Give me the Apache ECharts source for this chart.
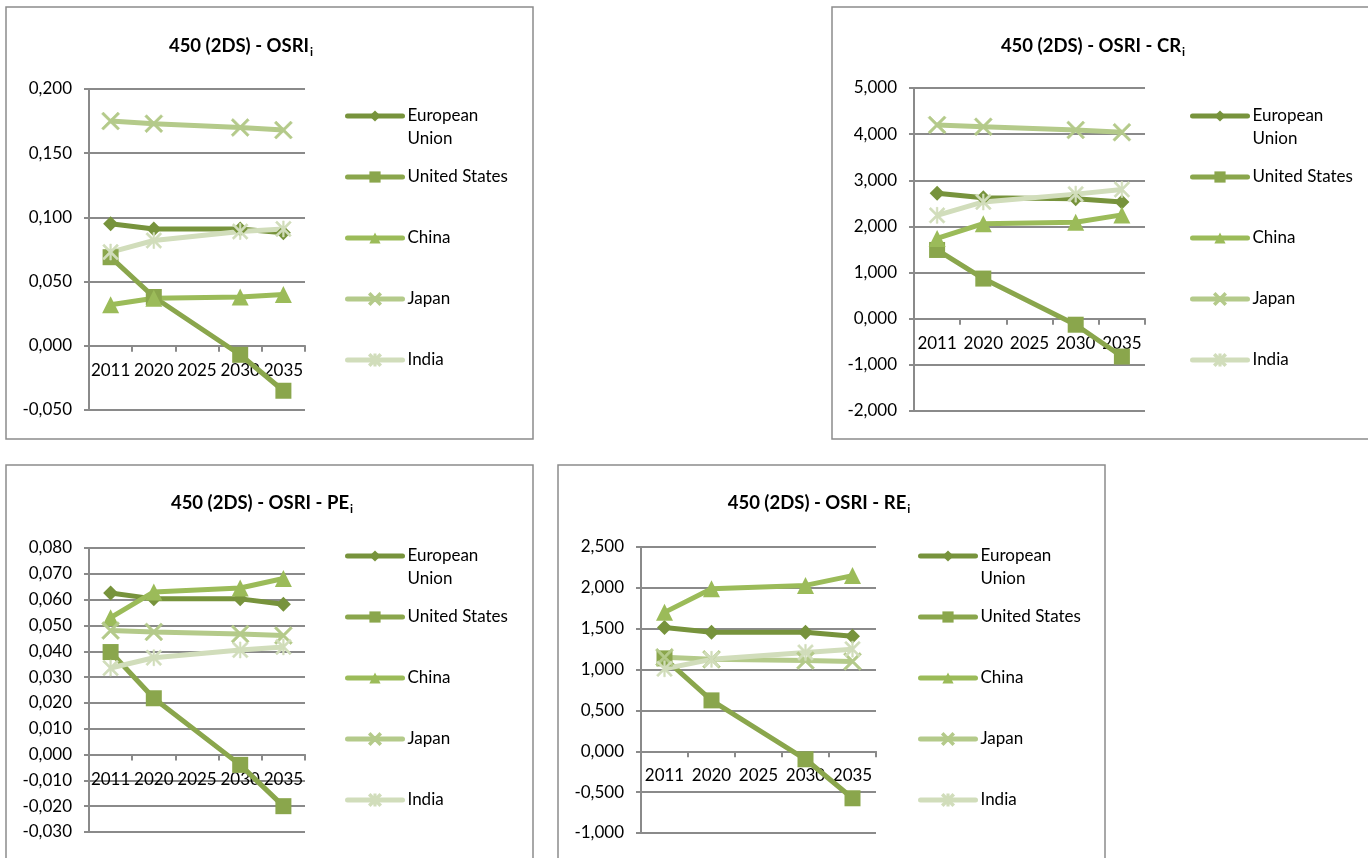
<!DOCTYPE html>
<html>
<head>
<meta charset="utf-8">
<script src="https://cdn.jsdelivr.net/npm/echarts@6/dist/echarts.min.js"></script>
<style>
html,body{margin:0;padding:0;background:#fff;}
#c{width:1368px;height:858px;}
</style>
</head>
<body>
<div id="c"></div>
<script>
// ---- data ----
const categories = ['2011', '2020', '2025', '2030', '2035'];
const seriesNames = ['European Union', 'United States', 'China', 'Japan', 'India'];

// 450 (2DS) - OSRI_i
const osriEU = [0.095, 0.091, null, 0.091, 0.088];
const osriUS = [0.069, 0.038, null, -0.007, -0.035];
const osriCN = [0.032, 0.037, null, 0.038, 0.040];
const osriJP = [0.175, 0.173, null, 0.170, 0.168];
const osriIN = [0.073, 0.082, null, 0.089, 0.091];

// 450 (2DS) - OSRI - CR_i
const crEU = [2.72, 2.62, null, 2.60, 2.53];
const crUS = [1.49, 0.87, null, -0.13, -0.82];
const crCN = [1.74, 2.06, null, 2.09, 2.25];
const crJP = [4.20, 4.16, null, 4.09, 4.04];
const crIN = [2.24, 2.53, null, 2.70, 2.80];

// 450 (2DS) - OSRI - PE_i
const peEU = [0.0626, 0.0603, null, 0.0603, 0.0582];
const peUS = [0.0397, 0.0218, null, -0.0040, -0.0200];
const peCN = [0.0530, 0.0630, null, 0.0645, 0.0682];
const peJP = [0.0480, 0.0475, null, 0.0467, 0.0461];
const peIN = [0.0335, 0.0375, null, 0.0405, 0.0417];

// 450 (2DS) - OSRI - RE_i
const reEU = [1.515, 1.458, null, 1.458, 1.408];
const reUS = [1.137, 0.623, null, -0.098, -0.575];
const reCN = [1.70, 1.99, null, 2.03, 2.15];
const reJP = [1.15, 1.125, null, 1.11, 1.10];
const reIN = [1.01, 1.125, null, 1.21, 1.25];

// y axis ranges [min, max, interval]
const osriRange = [-0.05, 0.2, 0.05];
const crRange = [-2, 5, 1];
const peRange = [-0.03, 0.08, 0.01];
const reRange = [-1, 2.5, 0.5];

// ---- styling ----
const F = 'Lato, "Open Sans", sans-serif';
const colors = ['#77933C', '#8AA64C', '#9BBB59', '#B4CA8A', '#D1DDBB'];
const xPath = 'path://M0,1 L1,0 L5,4 L9,0 L10,1 L6,5 L10,9 L9,10 L5,6 L1,10 L0,9 L4,5 Z';
const starPath = 'path://M0,1 L1,0 L5,4 L9,0 L10,1 L6,5 L10,9 L9,10 L5,6 L1,10 L0,9 L4,5 Z M4.5,0 L5.5,0 L5.5,10 L4.5,10 Z';
const symbols = ['diamond', 'rect', 'triangle', xPath, starPath];
const symbolSizes = [15, 16, 17, 18, 16];
const gridColor = '#8a8a8a';

const panels = [
  { title: '450 (2DS) - OSRI', data: [osriEU, osriUS, osriCN, osriJP, osriIN], range: osriRange,
    box: [6, 7, 527, 432], grid: [89, 89, 216, 321], titleXY: [241, 46], legendX: 345, legendY: 116 },
  { title: '450 (2DS) - OSRI - CR', data: [crEU, crUS, crCN, crJP, crIN], range: crRange,
    box: [832, 7, 560, 432], grid: [914, 88, 231, 323], titleXY: [1093, 46], legendX: 1190, legendY: 116 },
  { title: '450 (2DS) - OSRI - PE', data: [peEU, peUS, peCN, peJP, peIN], range: peRange,
    box: [6, 465, 527, 420], grid: [89, 548, 216, 284], titleXY: [262, 503], legendX: 345, legendY: 556 },
  { title: '450 (2DS) - OSRI - RE', data: [reEU, reUS, reCN, reJP, reIN], range: reRange,
    box: [558, 465, 547, 420], grid: [641, 547, 235, 286], titleXY: [819, 503], legendX: 918, legendY: 556 }
];

const option = {
  animation: false,
  backgroundColor: '#fff',
  grid: [], xAxis: [], yAxis: [], series: [], legend: [], graphic: []
};

panels.forEach((p, pi) => {
  option.graphic.push({
    type: 'rect', silent: true,
    shape: { x: p.box[0], y: p.box[1], width: p.box[2], height: p.box[3] },
    style: { fill: 'none', stroke: '#8c8c8c', lineWidth: 1.5 }
  });
  option.graphic.push({
    type: 'text', silent: true, x: p.titleXY[0], y: p.titleXY[1],
    style: {
      text: '{m|' + p.title + '}{s|i}',
      align: 'center', verticalAlign: 'middle',
      rich: {
        m: { fontFamily: F, fontSize: 18.5, fontWeight: 'bold', fill: '#000', lineHeight: 24 },
        s: { fontFamily: F, fontSize: 12, fontWeight: 'bold', fill: '#000', lineHeight: 24, verticalAlign: 'bottom', padding: [0, 0, 0, 1] }
      }
    }
  });
  const zeroOffset = p.grid[3] * (0 - p.range[0]) / (p.range[1] - p.range[0]);
  option.grid.push({ left: p.grid[0], top: p.grid[1], width: p.grid[2], height: p.grid[3], containLabel: false });
  option.xAxis.push({
    type: 'category', gridIndex: pi, data: categories, boundaryGap: true,
    position: 'bottom', offset: -zeroOffset,
    axisLine: { onZero: false, lineStyle: { color: gridColor, width: 2 } },
    axisTick: { show: true, length: 6, interval: 0, lineStyle: { color: gridColor, width: 2 } },
    axisLabel: { interval: 0, margin: 16, fontFamily: F, fontSize: 17, color: '#000' },
    splitLine: { show: false }
  });
  option.yAxis.push({
    type: 'value', gridIndex: pi, min: p.range[0], max: p.range[1], interval: p.range[2],
    axisLine: { show: true, onZero: false, lineStyle: { color: gridColor, width: 2 } },
    axisTick: { show: true, length: 5, lineStyle: { color: gridColor, width: 2 } },
    axisLabel: {
      margin: 17, fontFamily: F, fontSize: 17, color: '#000',
      formatter: v => (Math.round(v * 1000) / 1000).toFixed(3).replace('.', ',')
    },
    splitLine: { show: true, lineStyle: { color: gridColor, width: 2 } }
  });
  seriesNames.forEach((name, si) => {
    option.series.push({
      type: 'line', name: name, xAxisIndex: pi, yAxisIndex: pi,
      data: p.data[si], connectNulls: true,
      symbol: symbols[si], symbolSize: symbolSizes[si],
      lineStyle: { color: colors[si], width: 5 },
      itemStyle: { color: colors[si], borderColor: colors[si], borderWidth: si >= 3 ? 0.6 : 0 },
      emphasis: { disabled: true }
    });
    const isEU = si === 0;
    const iconCenter = p.legendY + si * 61;
    option.legend.push({
      data: [name], orient: 'vertical', selectedMode: false,
      left: p.legendX, top: iconCenter - (isEU ? 34.5 : 11.5),
      padding: 0, itemGap: 0, itemWidth: 55, itemHeight: 14,
      lineStyle: { width: 5, cap: 'round' },
      formatter: n => n === 'European Union' ? '\nEuropean\nUnion' : n,
      textStyle: { fontFamily: F, fontSize: 17, color: '#000', lineHeight: 23 }
    });
  });
});

const chart = echarts.init(document.getElementById('c'), null, { renderer: 'canvas' });
chart.setOption(option);
</script>
</body>
</html>
